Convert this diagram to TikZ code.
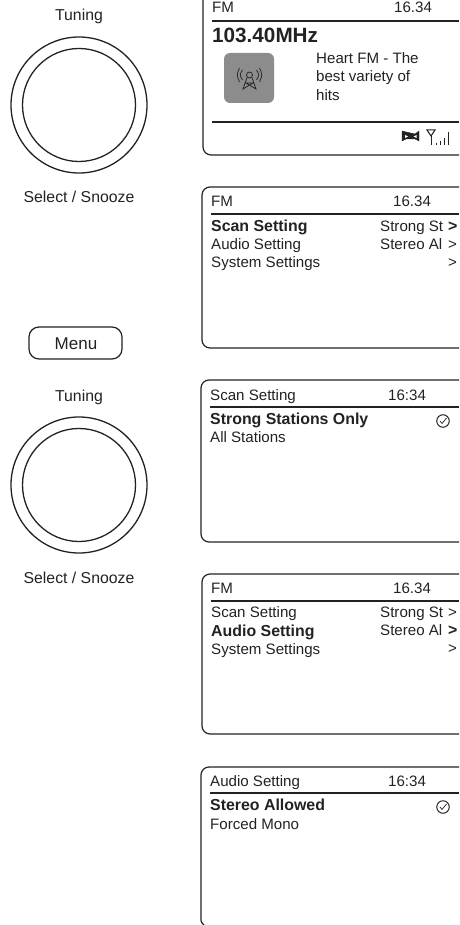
\documentclass[tikz,border=0pt]{standalone}
\usepackage{fontspec}
\setmainfont{Liberation Sans}
\usetikzlibrary{positioning}
\definecolor{inkdark}{HTML}{222222}
\definecolor{icongrey}{HTML}{8C8C8C}
\tikzstyle{frame} = [draw=inkdark, line width=1.2pt, rounded corners=8pt]
\tikzstyle{rule} = [draw=inkdark, line width=1.2pt]
\tikzstyle{thin} = [draw=inkdark, line width=0.7pt]
\tikzstyle{txt} = [inner sep=0pt, anchor=base west, text=inkdark, font=\fontsize{15.1}{18}\selectfont]
\tikzstyle{bold} = [txt, font=\fontsize{15.9}{18}\selectfont\bfseries]
\tikzstyle{label} = [txt, anchor=base, font=\fontsize{15.8}{18}\selectfont]
\tikzstyle{knob} = [draw=inkdark, line width=1.3pt, circle, inner sep=0pt]
\tikzstyle{tickmark} = [draw=inkdark, line width=1pt, circle, inner sep=0pt, minimum size=12.5pt]
\begin{document}
\begin{tikzpicture}[x=1pt, y=-1pt]
	\useasboundingbox (0,0) rectangle (459,925);

	% knobs
	\node[knob, minimum size=136pt] (outerA) at (79,105) {};
	\node[knob, minimum size=113pt] (innerA) at (79,105) {};
	\node[label] (tuningA) at (79,21) {Tuning};
	\node[label] (selectA) at (79,203) {Select / Snooze};
	\node[knob, minimum size=136pt] (outerB) at (79,485) {};
	\node[knob, minimum size=113pt] (innerB) at (79,485) {};
	\node[label] (tuningB) at (79,401) {Tuning};
	\node[label] (selectB) at (79,583) {Select / Snooze};
	\node[draw=inkdark, line width=1.2pt, rounded corners=10pt, minimum width=93pt, minimum height=32pt, inner sep=0pt] (menu) at (75.5,343) {};
	\node[label, font=\fontsize{17}{18}\selectfont] (menutxt) at (76,349) {Menu};

	% screen 1
	\path [frame] (203,0) -- (203,155) -- (459,155);
	\path [rule] (212,21) -- (459,21);
	\path [rule] (212,122) -- (459,122);
	\node[txt] (fmA) at (212,13) {FM};
	\node[txt] (timeA) at (394,13) {16.34};
	\node[bold, font=\fontsize{20.7}{22}\selectfont\bfseries] (freq) at (212,43) {103.40MHz};
	\node[fill=icongrey, rounded corners=6pt, minimum size=50pt, inner sep=0pt] (station) at (249,78) {};
	\node[draw=inkdark, line width=0.7pt, circle, inner sep=0pt, minimum size=6pt] (mast) at (249.5,75) {};
	\path [thin] (mast.south west) -- (243,89) -- (253,83) -- (246,83) -- (256,89) -- (mast.south east);
	\foreach \r/\h in {7/5, 10/7}{
		\path [thin] (249.5-\r,75-\h) .. controls (249.5-\r-3,75) .. (249.5-\r,75+\h);
		\path [thin] (249.5+\r,75-\h) .. controls (249.5+\r+3,75) .. (249.5+\r,75+\h);
	}
	\node[txt] (infoA) at (316,64) {Heart FM - The};
	\node[txt] (infoB) at (316,82) {best variety of};
	\node[txt] (infoC) at (316,101) {hits};
	% status icons
	\path [draw=inkdark, fill=inkdark] (402,131) -- (406,132) -- (415,134) -- (419,131) -- (419,141) -- (415,139) -- (406,139) -- (402,141) -- cycle;
	\path [fill=white] (405,135) -- (408,136.5) -- (405,138) -- cycle;
	\path [fill=white] (416.5,135) -- (413.5,136.5) -- (416.5,138) -- cycle;
	\path [draw=inkdark, line width=1pt] (427,130) -- (435,130) -- (431,136) -- cycle;
	\path [draw=inkdark, line width=1pt] (431,136) -- (431,145);
	\foreach \x/\t in {436/143, 440/141, 444/138, 448/132}{
		\path [draw=inkdark, line width=1pt] (\x,\t) -- (\x,145);
	}

	% screen 2
	\path [frame] (459,187) -- (202,187) -- (202,348) -- (459,348);
	\path [rule] (211,214) -- (459,214);
	\node[txt] (fmB) at (211,207) {FM};
	\node[txt] (timeB) at (393,207) {16.34};
	\node[bold] (scanB) at (211,231) {Scan Setting};
	\node[txt] (audioB) at (211,249) {Audio Setting};
	\node[txt] (systemB) at (211,267) {System Settings};
	\node[txt] (strongB) at (380,231) {Strong St};
	\node[txt] (stereoB) at (380,249) {Stereo Al};
	\node[bold] (gtA) at (448,231) {>};
	\node[txt] (gtB) at (448,249) {>};
	\node[txt] (gtC) at (448,267) {>};

	% screen 3
	\path [frame] (459,380) -- (201,380) -- (201,542) -- (459,542);
	\path [rule] (210,407) -- (459,407);
	\node[txt] (scantitle) at (210,400) {Scan Setting};
	\node[txt] (timeC) at (388,400) {16:34};
	\node[bold] (strongonly) at (210,424) {Strong Stations Only};
	\node[txt] (allst) at (210,442) {All Stations};
	\node[tickmark] (checkA) at (443,421) {};
	\path [thin] ([xshift=-3pt]checkA.center) -- ([xshift=-1pt,yshift=-2.5pt]checkA.center) -- ([xshift=3.5pt,yshift=3pt]checkA.center);

	% screen 4
	\path [frame] (459,574) -- (202,574) -- (202,734) -- (459,734);
	\path [rule] (211,601) -- (459,601);
	\node[txt] (fmD) at (211,593) {FM};
	\node[txt] (timeD) at (393,593) {16.34};
	\node[txt] (scanD) at (211,617) {Scan Setting};
	\node[bold] (audioD) at (211,636) {Audio Setting};
	\node[txt] (systemD) at (211,654) {System Settings};
	\node[txt] (strongD) at (380,617) {Strong St};
	\node[txt] (stereoD) at (380,635) {Stereo Al};
	\node[txt] (gtD) at (448,617) {>};
	\node[bold] (gtE) at (448,635) {>};
	\node[txt] (gtF) at (448,653) {>};

	% screen 5
	\path [frame] (459,767) -- (201,767) -- (201,918);
	\path [rule] (201,918) .. controls (201,922) .. (204,925);
	\path [rule] (210,793) -- (459,793);
	\node[txt] (audiotitle) at (210,786) {Audio Setting};
	\node[txt] (timeE) at (388,786) {16:34};
	\node[bold] (stereoE) at (210,810) {Stereo Allowed};
	\node[txt] (mono) at (210,829) {Forced Mono};
	\node[tickmark] (checkB) at (443,807) {};
	\path [thin] ([xshift=-3pt]checkB.center) -- ([xshift=-1pt,yshift=-2.5pt]checkB.center) -- ([xshift=3.5pt,yshift=3pt]checkB.center);
\end{tikzpicture}
\end{document}
